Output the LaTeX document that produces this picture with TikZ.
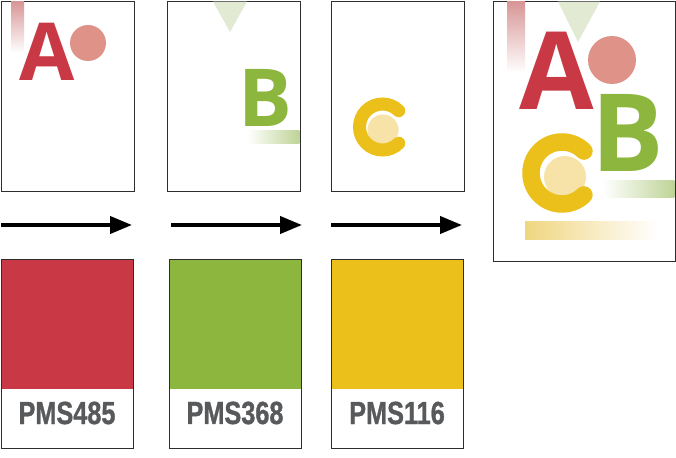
\documentclass[tikz,border=0pt]{standalone}
\usepackage{fontspec}
\newfontfamily\letterfont{Open Sans}
\newfontfamily\labelfont{Liberation Sans}[BoldFeatures={FakeBold=1.2}]
\usetikzlibrary{arrows.meta}
\definecolor{pred}{RGB}{201,57,69}
\definecolor{pgreen}{RGB}{141,182,62}
\definecolor{pyellow}{RGB}{236,192,26}
\definecolor{lred}{RGB}{222,146,136}
\definecolor{lgreen}{RGB}{226,234,211}
\definecolor{lyellow}{RGB}{247,226,168}
\definecolor{bred}{RGB}{216,150,150}
\definecolor{bgreen}{RGB}{190,212,150}
\definecolor{byellow}{RGB}{240,214,128}
\definecolor{labgray}{RGB}{88,89,91}
\definecolor{border}{RGB}{45,45,45}
\tikzset{
  page/.style={draw=border, line width=1.2pt, fill=white, anchor=north west, inner sep=0pt},
  swbox/.style={draw=border, line width=1.2pt, anchor=north west, inner sep=0pt, minimum width=132, minimum height=189},
  flow/.style={line width=4pt, -{Triangle[length=22pt,width=17pt]}},
  smallletter/.style={inner sep=0pt, font=\letterfont\bfseries\fontsize{80}{80}\selectfont},
  bigletter/.style={inner sep=0pt, font=\letterfont\bfseries\fontsize{108}{108}\selectfont},
  pmslabel/.style={inner sep=0pt, text=labgray, font=\labelfont\bfseries\fontsize{32}{32}\selectfont},
}
\begin{document}
\begin{tikzpicture}[x=1pt,y=-1pt]
\useasboundingbox (0,0) rectangle (676,457);
% pages
\node[page, minimum width=133, minimum height=190] (p1) at (1,1) {};
\node[page, minimum width=133, minimum height=190] (p2) at (167,1) {};
\node[page, minimum width=133, minimum height=190] (p3) at (331,1) {};
\node[page, minimum width=182, minimum height=260] (p4) at (493,1) {};
% page 1
\shade[top color=bred, bottom color=white] (11,1.6) rectangle (24,53);
\fill[lred] (88,43) circle (18);
\node[smallletter, text=pred] (A1) at (47.5,51.5) {A};
% page 2
\fill[lgreen] (213,1.6) -- (247,1.6) -- (230,32) -- cycle;
\shade[left color=white, right color=bgreen] (247,131) rectangle (299.4,144);
\node[smallletter, text=pgreen] (B1) at (265.5,97.5) {B};
% page 3
\fill[lyellow] (383,130) circle (15.5);
\draw[pyellow, line width=13pt, line cap=round] (382.5,127) ++(-45:23) arc[start angle=-45, end angle=-315, radius=23];
% page 4
\shade[top color=bred, bottom color=white] (507,1.6) rectangle (525,73);
\fill[lgreen] (558,1.6) -- (600,1.6) -- (578,42) -- cycle;
\fill[lred] (612,60) circle (24);
\node[bigletter, text=pred] (A2) at (556.5,70.5) {A};
\shade[left color=white, right color=bgreen] (603,180) rectangle (674.4,197);
\node[bigletter, text=pgreen] (B2) at (627.5,132.5) {B};
\shade[left color=byellow, right color=white] (525,221) rectangle (657,239);
\fill[lyellow] (565,177) circle (21);
\draw[pyellow, line width=17.5pt, line cap=round] (562,173) ++(-45:31) arc[start angle=-45, end angle=-315, radius=31];
% arrows
\coordinate (a1s) at (1,225); \coordinate (a1e) at (132,225);
\coordinate (a2s) at (171,225); \coordinate (a2e) at (302,225);
\coordinate (a3s) at (331,225); \coordinate (a3e) at (462,225);
\draw[flow] (a1s) -- (a1e);
\draw[flow] (a2s) -- (a2e);
\draw[flow] (a3s) -- (a3e);
% swatches
\fill[pred] (1,259) rectangle (133,389);
\fill[pgreen] (169,259) rectangle (301,389);
\fill[pyellow] (331,259) rectangle (463,389);
\node[swbox] (s1) at (1,259) {};
\node[swbox] (s2) at (169,259) {};
\node[swbox] (s3) at (331,259) {};
\node[pmslabel] (l1) at (67,413) {\scalebox{0.79}[1]{PMS485}};
\node[pmslabel] (l2) at (235,413) {\scalebox{0.79}[1]{PMS368}};
\node[pmslabel] (l3) at (397,413) {\scalebox{0.79}[1]{PMS116}};
\end{tikzpicture}
\end{document}
